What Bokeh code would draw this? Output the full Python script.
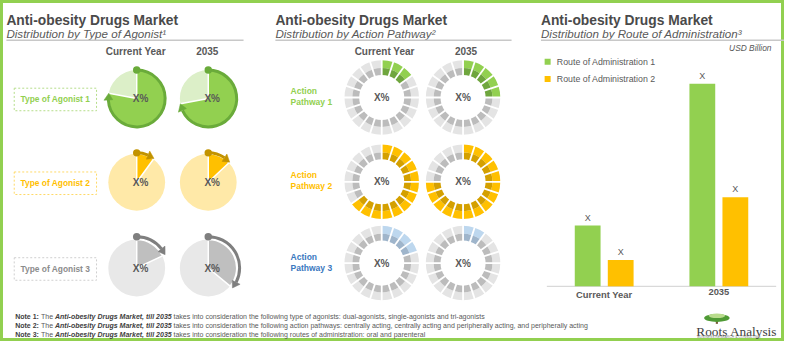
import numpy as np
from bokeh.plotting import figure
from bokeh.models import Range1d, ColumnDataSource
from bokeh.core.properties import value
from bokeh.embed import file_html
from bokeh.resources import INLINE

# ---------------- data ----------------
years = ["Current Year", "2035"]

agonist_types = ["Type of Agonist 1", "Type of Agonist 2", "Type of Agonist 3"]
agonist_share_current = [0.78, 0.10, 0.18]
agonist_share_2035 = [0.72, 0.13, 0.36]
pie_label = "X%"

pathways = ["Action Pathway 1", "Action Pathway 2", "Action Pathway 3"]
ring_segment_count = 20
pathway_segments_current = [3, 13, 4]
pathway_segments_2035 = [5, 15, 2]
ring_label = "X%"

routes = ["Route of Administration 1", "Route of Administration 2"]
route1_values = [3.0, 10.0]   # Current Year, 2035
route2_values = [1.3, 4.4]
bar_label = "X"
unit_label = "USD Billion"

title = "Anti-obesity Drugs Market"
subtitles = ["Distribution by Type of Agonist\u00b9",
             "Distribution by Action Pathway\u00b2",
             "Distribution by Route of Administration\u00b3"]

note_heads = ["Note 1:", "Note 2:", "Note 3:"]
note_lead = "The"
note_subject = "Anti-obesity Drugs Market, till 2035"
note_texts = [
    "takes into consideration the following type of agonists: dual-agonists, single-agonists and tri-agonists",
    "takes into consideration the following action pathways: centrally acting, centrally acting and peripherally acting, and peripherally acting",
    "takes into consideration the following routes of administration: oral and parenteral",
]

# ---------------- styles ----------------
GREEN, ORANGE, GREY, BLUE = "#92d050", "#ffc000", "#bfbfbf", "#bdd7ee"
DARK_TXT, MID_TXT = "#4a4a4a", "#595959"
SANS, SERIF = "Liberation Sans", "Liberation Serif"

W, H = 784, 341
p = figure(width=W, height=H, x_range=Range1d(0, 800), y_range=Range1d(4, 352),
           output_backend="svg", toolbar_location=None, min_border=0,
           x_axis_location=None, y_axis_location=None)
for g in p.grid:
    g.visible = False
p.outline_line_color = GREEN
p.outline_line_width = 5
p.background_fill_color = "white"
p.border_fill_color = "white"


def Y(iy):
    return 357 - iy


def txt(x, iy, s, size, color, style="normal", align="left", baseline="middle", font=SANS):
    p.text(x=[x], y=[Y(iy)], text=[s], text_font=value(font), text_font_size=f"{size}px",
           text_color=color, text_font_style=style, text_align=align, text_baseline=baseline)


# ---------------- headers ----------------
for x0, x1, sub in zip([6, 280.5, 551.5], [248, 521.5, 800], subtitles):
    txt(x0, 25, title, 13.8, DARK_TXT, "bold", baseline="alphabetic")
    txt(x0, 38.5, sub, 11.6, MID_TXT, "italic", baseline="alphabetic")
    p.segment(x0=[x0], y0=[Y(45.5)], x1=[x1], y1=[Y(45.5)], line_color="#c8c8c8", line_width=1.5)

# ---------------- left panel: pies ----------------
pie_cx = [139, 212]
pie_rows = [105, 190.5, 278]
R = 29
pie_dark = [GREEN, ORANGE, GREY]
pie_light = ["#dcefc8", "#ffe9a8", "#e8e8e8"]
pie_arc = ["#6aab3a", "#c29300", "#7f7f7f"]
arc_off = [0, 1, 3]
label_col = [GREEN, ORANGE, "#8c8c8c"]
box_col = ["#b5dd8a", "#ffd966", "#cfcfcf"]

for c, yr in enumerate(years):
    txt(pie_cx[c] - 1, 57, yr, 10, MID_TXT, "bold", align="center")

for r, iy in enumerate(pie_rows):
    p.rect(x=[56], y=[Y(iy + 1)], width=84, height=23, fill_color=None,
           line_color=box_col[r], line_dash="2 2", line_width=1)
    txt(56, iy + 1, agonist_types[r], 8.4, label_col[r], "bold", align="center")
    for c, shares in enumerate([agonist_share_current, agonist_share_2035]):
        s = shares[r]
        cx, cy = pie_cx[c], Y(iy)
        p.circle(x=[cx], y=[cy], radius=R, fill_color=pie_light[r], line_color=None)
        a_end = np.pi / 2 - 2 * np.pi * s
        p.wedge(x=[cx], y=[cy], radius=R, start_angle=a_end, end_angle=np.pi / 2,
                fill_color=pie_dark[r], line_color="white", line_width=1.5)
        Ra = R + arc_off[r]
        L, hw = 7.0, 4.5
        th_b = a_end + L / Ra
        p.arc(x=[cx], y=[cy], radius=Ra, start_angle=th_b, end_angle=np.pi / 2,
              line_color=pie_arc[r], line_width=3)
        tipx, tipy = cx + Ra * np.cos(a_end), cy + Ra * np.sin(a_end)
        bx, by = cx + Ra * np.cos(th_b), cy + Ra * np.sin(th_b)
        p.patch(x=[tipx, bx + hw * np.cos(th_b), bx - hw * np.cos(th_b)],
                y=[tipy, by + hw * np.sin(th_b), by - hw * np.sin(th_b)],
                fill_color=pie_arc[r], line_color=pie_arc[r], line_width=0.5)
        p.circle(x=[cx], y=[cy + Ra], radius=3.8, fill_color=pie_arc[r], line_color=None)
        txt(cx + 4, iy, pie_label, 10, MID_TXT, "bold", align="center")

# ---------------- middle panel: segmented rings ----------------
ring_cx = [389, 472]
ring_rows = [104, 190, 273]
R_OUT, R_MID, R_IN = 38, 30, 23
ring_out = [GREEN, ORANGE, BLUE]
ring_in = ["#6fa63e", "#d4a000", "#9fb5cb"]
gray_out, gray_in = "#e4e4e4", "#bcbcbc"
path_col = [GREEN, ORANGE, "#3a78c0"]

for c, yr in enumerate(years):
    txt(ring_cx[c] + 3, 57, yr, 10, MID_TXT, "bold", align="center")

N = ring_segment_count
seg = 2 * np.pi / N
jj = np.arange(N)
for r, iy in enumerate(ring_rows):
    words = pathways[r].split(" ", 1)
    txt(296, iy - 6.5, words[0], 8.5, path_col[r], "bold")
    txt(296, iy + 4.5, words[1], 8.5, path_col[r], "bold")
    for c, counts in enumerate([pathway_segments_current, pathway_segments_2035]):
        n = counts[r]
        cx, cy = ring_cx[c], Y(iy)
        st = np.pi / 2 - (jj + 1) * seg
        en = np.pi / 2 - jj * seg
        filled = jj < n
        src = ColumnDataSource(dict(
            x=[cx] * N, y=[cy] * N, s=st, e=en,
            co=[ring_out[r] if f else gray_out for f in filled],
            ci=[ring_in[r] if f else gray_in for f in filled]))
        p.annular_wedge(x="x", y="y", inner_radius=R_MID, outer_radius=R_OUT,
                        start_angle="s", end_angle="e", fill_color="co", line_color=None, source=src)
        p.annular_wedge(x="x", y="y", inner_radius=R_IN, outer_radius=R_MID,
                        start_angle="s", end_angle="e", fill_color="ci", line_color=None, source=src)
        p.segment(x0=cx + (R_IN - 1) * np.cos(en), y0=cy + (R_IN - 1) * np.sin(en),
                  x1=cx + (R_OUT + 1) * np.cos(en), y1=cy + (R_OUT + 1) * np.sin(en),
                  line_color="white", line_width=1.8)
        txt(cx, iy, ring_label, 10, MID_TXT, "bold", align="center")

# ---------------- right panel: bar chart ----------------
BAR_X0, BAR_GAP = 616.0, 117.0          # image x of first group, group spacing
BASE_Y, TOP_Y = Y(296.7), Y(90)          # baseline and top of tallest bar
vmax = max(route1_values + route2_values)
k = (TOP_Y - BASE_Y) / vmax
p.extra_x_ranges = {"bx": Range1d((0 - BAR_X0) / BAR_GAP, (800 - BAR_X0) / BAR_GAP)}
p.extra_y_ranges = {"by": Range1d((4 - BASE_Y) / k, (352 - BASE_Y) / k)}

idx = np.arange(len(years))
dodge, bw = 0.144, 0.225
p.segment(x0=[-0.5], y0=[0], x1=[1.5], y1=[0], line_color="#d9d9d9", line_width=1.2,
          x_range_name="bx", y_range_name="by")
for vals, off, col in [(route1_values, -dodge, GREEN), (route2_values, dodge, ORANGE)]:
    p.vbar(x=idx + off, top=vals, bottom=0, width=bw, fill_color=col, line_color=None,
           x_range_name="bx", y_range_name="by")
    p.text(x=idx + off, y=vals, text=[bar_label] * len(vals), text_font=value(SANS),
           text_font_size="9px", text_color=MID_TXT, text_align="center",
           text_baseline="bottom", y_offset=-3, x_range_name="bx", y_range_name="by")
p.text(x=idx, y=[0] * len(years), text=years, text_font=value(SANS), text_font_size="9.4px",
       text_font_style="bold", text_color=MID_TXT, text_align="center", text_baseline="top",
       y_offset=3, x_range_name="bx", y_range_name="by")

txt(786.7, 53.3, unit_label, 8.4, MID_TXT, "italic", align="right")
for i, (rt, col) in enumerate(zip(routes, [GREEN, ORANGE])):
    iy = 67.5 + i * 17.5
    p.scatter(x=[558.3], y=[Y(iy)], marker="square", size=6, fill_color=col, line_color=None)
    txt(567.7, iy, rt, 8.8, MID_TXT)

# ---------------- notes ----------------
for i in range(3):
    iy = 327 + i * 9.3
    txt(15, iy, note_heads[i], 7, "#404040", "bold")
    txt(41.3, iy, note_lead, 7, MID_TXT)
    txt(55.6, iy, note_subject, 7, "#404040", "bold italic")
    txt(176.5, iy, note_texts[i], 7, MID_TXT)

# ---------------- logo ----------------
p.rect(x=[731], y=[Y(332.5)], width=2.2, height=5, fill_color="#7a5c3a", line_color=None)
p.ellipse(x=[731], y=[Y(329)], width=26, height=8, fill_color="#4f9a35", line_color=None)
p.ellipse(x=[731], y=[Y(326.8)], width=17, height=4.5, fill_color="#b9dc8c", line_color=None)
txt(710, 343, "Roots Analysis", 13.3, "#3d3d3d", baseline="alphabetic", font=SERIF)
txt(711, 348.3, "BUSINESS RESEARCH & CONSULTING", 3.4, "#7f7f7f")

open("out.html", "w").write(file_html(p, INLINE))
